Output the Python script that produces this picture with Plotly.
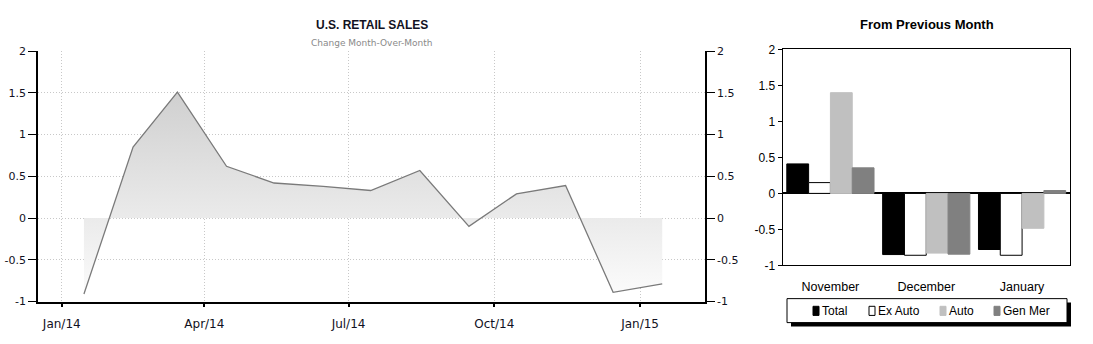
import plotly.graph_objects as go

# ---- Left chart data: U.S. Retail Sales, change month-over-month ----
dates = ["2014-01-15", "2014-02-15", "2014-03-15", "2014-04-15", "2014-05-15",
         "2014-06-15", "2014-07-15", "2014-08-15", "2014-09-15", "2014-10-15",
         "2014-11-15", "2014-12-15", "2015-01-15"]
mom_change = [-0.91, 0.85, 1.51, 0.62, 0.42, 0.38, 0.33, 0.57, -0.10, 0.29, 0.39, -0.89, -0.79]

x_tick_vals = ["2014-01-01", "2014-04-01", "2014-07-01", "2014-10-01", "2015-01-01"]
x_tick_text = ["Jan/14", "Apr/14", "Jul/14", "Oct/14", "Jan/15"]

y_tick_vals = [2, 1.5, 1, 0.5, 0, -0.5, -1]
y_tick_text = ["2", "1.5", "1", "0.5", "0", "-0.5", "-1"]

# ---- Right chart data: from previous month ----
months = ["November", "December", "January"]
total = [0.41, -0.85, -0.78]
ex_auto = [0.15, -0.86, -0.86]
auto = [1.40, -0.83, -0.485]
gen_mer = [0.355, -0.845, 0.04]
series_names = ["Total", "Ex Auto", "Auto", "Gen Mer"]

W, H = 1093, 344


def px_x(p):
    return p / W


def px_y(p):
    return 1 - p / H


fig = go.Figure()

# Left: area line
fig.add_trace(go.Scatter(
    x=dates, y=mom_change, mode="lines",
    line=dict(color="#7a7a7a", width=1.3),
    fill="tozeroy",
    fillgradient=dict(type="vertical",
                      colorscale=[[0, "#ffffff"], [1, "#d0d0d0"]],
                      start=-1, stop=1.5),
    xaxis="x", yaxis="y", showlegend=False, hoverinfo="skip",
))
# invisible copy to draw right-side axis
fig.add_trace(go.Scatter(
    x=dates, y=mom_change, mode="lines", line=dict(width=0, color="rgba(0,0,0,0)"),
    xaxis="x", yaxis="y2", showlegend=False, hoverinfo="skip",
))

# Right: grouped bars
bar_colors = ["#000000", "#ffffff", "#c0c0c0", "#808080"]
bar_lines = ["#000000", "#000000", "#c0c0c0", "#808080"]
bar_values = [total, ex_auto, auto, gen_mer]
for name, vals, col, lcol in zip(series_names, bar_values, bar_colors, bar_lines):
    fig.add_trace(go.Bar(
        x=months, y=vals, name=name, xaxis="x3", yaxis="y3",
        marker=dict(color=col, line=dict(color=lcol, width=1)),
        hoverinfo="skip", showlegend=False,
    ))

left_font = dict(family="DejaVu Sans", size=11, color="#111122")
rfam = "Liberation Sans, Arial"
right_font = dict(family=rfam, size=12, color="#000000")

grid = dict(showgrid=True, gridcolor="#c8c8c8", gridwidth=1, griddash="1px,2px")

# ---- manual legend (box, shadow, swatches, labels) ----
shapes = [
    dict(type="rect", xref="paper", yref="paper",
         x0=px_x(791), x1=px_x(1071), y0=px_y(333), y1=px_y(308),
         fillcolor="#000", line=dict(width=0)),
    dict(type="rect", xref="paper", yref="paper",
         x0=px_x(787), x1=px_x(1067), y0=px_y(329), y1=px_y(304),
         fillcolor="#fff", line=dict(color="#000", width=1)),
]
annotations = []
sw_x = [813, 869, 940, 994]
for name, col, sx in zip(series_names, bar_colors, sw_x):
    shapes.append(dict(type="rect", xref="paper", yref="paper",
                       x0=px_x(sx), x1=px_x(sx + 6), y0=px_y(321.5), y1=px_y(312),
                       fillcolor=col,
                       line=dict(color="#000" if col == "#ffffff" else col, width=1)))
    annotations.append(dict(text=name, xref="paper", yref="paper",
                            x=px_x(sx + 7), y=px_y(317), xanchor="left", yanchor="middle",
                            showarrow=False, font=dict(family=rfam, size=12, color="#000")))

annotations += [
    dict(text="<b>U.S. RETAIL SALES</b>", xref="paper", yref="paper",
         x=px_x(371.5), y=px_y(19), xanchor="center", yanchor="middle",
         showarrow=False, font=dict(family="Liberation Sans", size=12, color="#111122")),
    dict(text="Change Month-Over-Month", xref="paper", yref="paper",
         x=px_x(371.5), y=px_y(38), xanchor="center", yanchor="middle",
         showarrow=False, font=dict(family="DejaVu Sans", size=9, color="#8a8a8a")),
    dict(text="<b>From Previous Month</b>", xref="paper", yref="paper",
         x=px_x(927), y=px_y(18), xanchor="center", yanchor="middle",
         showarrow=False, font=dict(family=rfam, size=13, color="#000")),
]

fig.update_layout(
    width=W, height=H,
    margin=dict(l=0, r=0, t=0, b=0),
    paper_bgcolor="white", plot_bgcolor="white",
    showlegend=False,
    barmode="group", bargap=0.09, bargroupgap=0,
    xaxis=dict(
        domain=[px_x(38), px_x(705)], anchor="y",
        type="date", range=["2013-12-17", "2015-02-11"],
        tickvals=x_tick_vals, ticktext=x_tick_text,
        ticks="outside", ticklen=4, tickcolor="#000", tickwidth=1.5,
        showline=True, linecolor="#000", linewidth=1.5,
        tickfont=dict(family="DejaVu Sans", size=12, color="#111122"),
        ticklabelstandoff=6,
        zeroline=False, **grid,
    ),
    yaxis=dict(
        domain=[px_y(307), px_y(46)], anchor="x",
        range=[-1, 2], tickvals=y_tick_vals, ticktext=y_tick_text,
        ticks="outside", ticklen=8, tickcolor="#000", tickwidth=1,
        showline=True, linecolor="#000", linewidth=1.5,
        tickfont=left_font, zeroline=False, **grid,
    ),
    yaxis2=dict(
        overlaying="y", side="right", anchor="x",
        range=[-1, 2], tickvals=y_tick_vals, ticktext=y_tick_text,
        ticks="outside", ticklen=8, tickcolor="#000", tickwidth=1,
        showline=True, linecolor="#000", linewidth=1.5,
        tickfont=left_font, showgrid=False, zeroline=False,
    ),
    xaxis3=dict(
        domain=[px_x(782.5), px_x(1070)], anchor="y3",
        range=[-0.5, 2.5], showline=True, linecolor="#000", linewidth=1,
        mirror=True, ticks="", showgrid=False, zeroline=False,
        tickfont=dict(family=rfam, size=12.5, color="#000"),
        ticklabelstandoff=10,
    ),
    yaxis3=dict(
        domain=[px_y(269.3), px_y(44.3)], anchor="x3",
        range=[-1, 2], tickvals=y_tick_vals, ticktext=y_tick_text,
        ticks="outside", ticklen=4, tickcolor="#000",
        showline=True, linecolor="#000", linewidth=1, mirror=True,
        showgrid=False, zeroline=True, zerolinecolor="#000", zerolinewidth=1.5,
        tickfont=right_font,
    ),
    shapes=shapes,
    annotations=annotations,
)

fig.write_html("out.html")
